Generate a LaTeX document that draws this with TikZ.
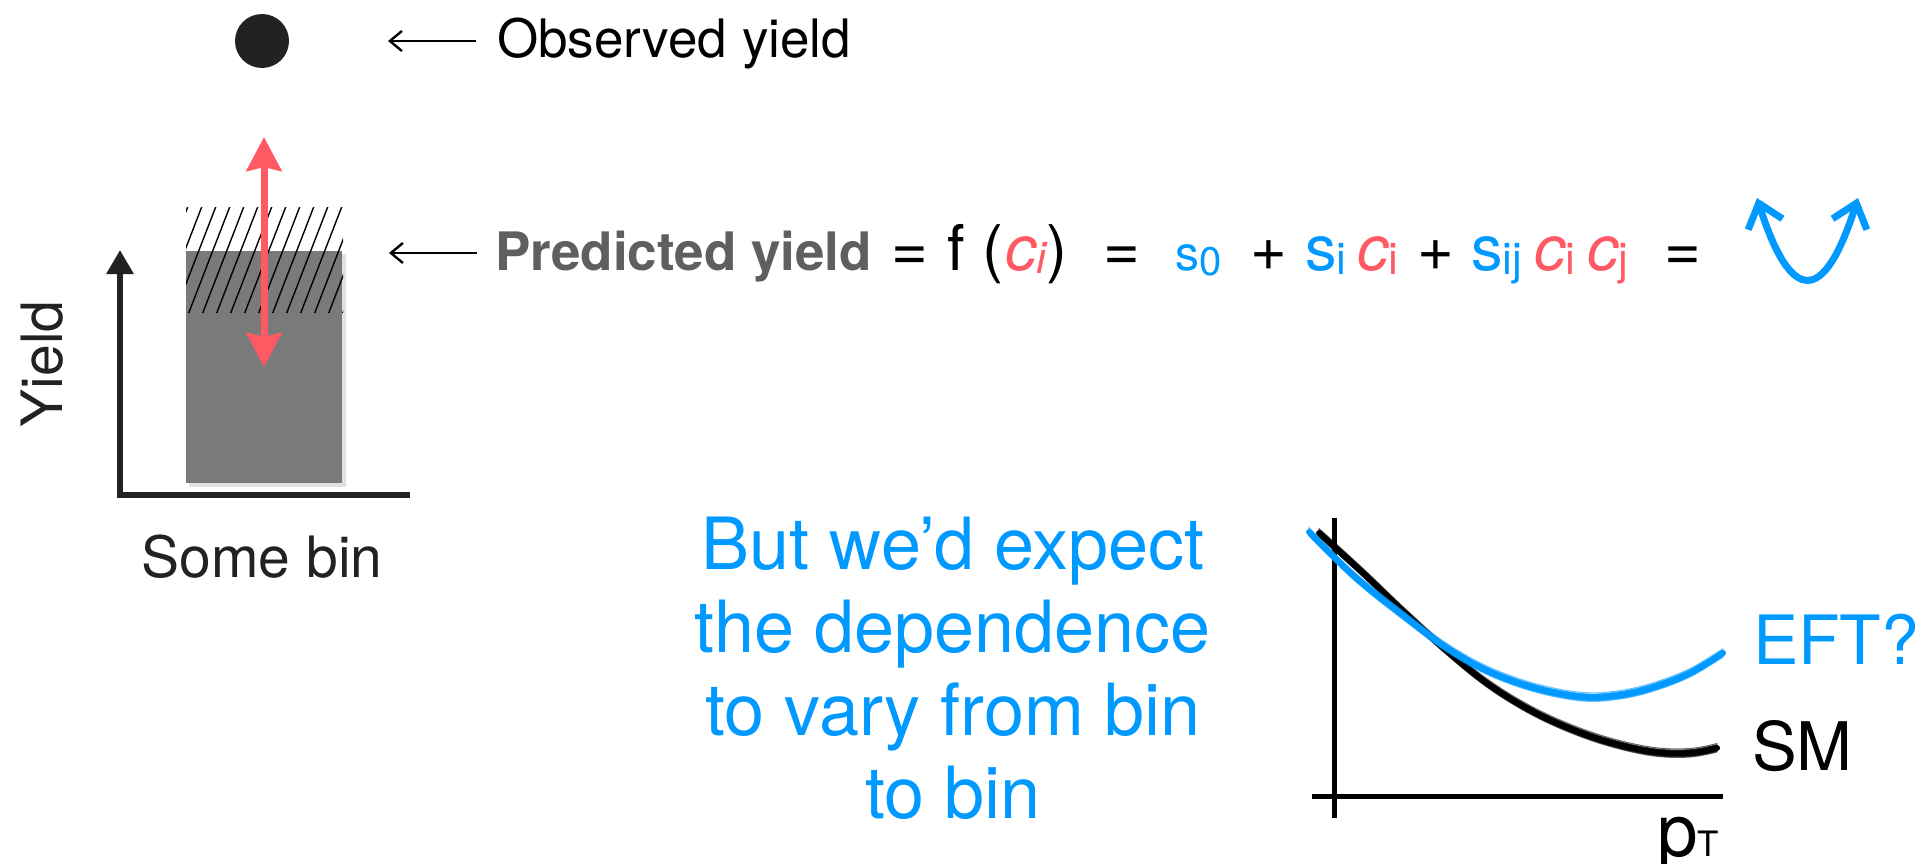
\documentclass[tikz,border=0pt]{standalone}
\usepackage{fontspec}
\setmainfont{TeX Gyre Heros}
\usetikzlibrary{arrows.meta}
\definecolor{myred}{HTML}{FF5A64}
\definecolor{myblue}{HTML}{0099FF}
\definecolor{bargray}{HTML}{7A7A7A}
\definecolor{txtgray}{HTML}{5F5F5F}
\definecolor{ink}{HTML}{222222}
\newcommand{\fs}[1]{\fontsize{#1}{#1}\selectfont}
\newcommand{\lowsub}[1]{\raisebox{-4pt}{\fs{44}#1}}
\begin{document}
\begin{tikzpicture}[x=1pt,y=-1pt,
  lbl/.style={inner sep=0pt, outer sep=0pt, anchor=base west},
  eqtxt/.style={lbl, font=\fs{63}},
  pointer/.style={line width=2.4pt, -{Straight Barb[length=12pt,width=20pt]}},
  axisL/.style={ink, line width=6pt, line join=miter},
  axisR/.style={black, line width=5pt},
  cvar/.style={lbl, text=myred, font=\fs{63}\itshape},
  svar/.style={lbl, text=myblue, font=\fs{63}}]
\useasboundingbox (0,0) rectangle (1932,864);

% ---------- left: observed / predicted ----------
\node[circle, fill=ink, minimum size=54pt, inner sep=0pt] (dot) at (262,41) {};
\node[lbl, font=\fs{53}] (obs) at (497,58) {Observed yield};
\coordinate (obsTail) at (476,41);
\coordinate (obsTip) at (388,41);
\draw[pointer] (obsTail) -- (obsTip);

\fill[black, opacity=0.12] (189,254) rectangle (346,487);
\node[fill=bargray, inner sep=0pt, minimum width=156pt, minimum height=232pt] (bar) at (264,367) {};
\begin{scope}
  \clip (186,207) rectangle (343,313);
  \foreach \x in {146.7,160.7,...,350} \draw[line width=1.4pt] (\x,313) -- (\x+41,207);
\end{scope}

\coordinate (redTop) at (264,137);
\coordinate (redBot) at (264,367);
\draw[myred, line width=7pt, {Stealth[length=34pt,width=35pt,inset=4pt]}-{Stealth[length=34pt,width=35pt,inset=4pt]}] (redBot) -- (redTop);

\coordinate (yTop) at (120,250);
\coordinate (orig) at (120,495);
\coordinate (xEnd) at (410,495);
\draw[axisL, {Triangle[length=24pt,width=26pt]}-] (yTop) -- (orig) -- (xEnd);
\node[lbl, anchor=base, rotate=90, text=ink, font=\fs{57}] (ylab) at (62,364) {Yield};
\node[lbl, anchor=base, text=ink, font=\fs{57}] (xlab) at (262,577) {Some bin};

\coordinate (predTail) at (477,253);
\coordinate (predTip) at (389,253);
\draw[pointer] (predTail) -- (predTip);

% ---------- equation ----------
\node[lbl, text=txtgray, font=\bfseries\fs{53}] (pred) at (495,270) {Predicted yield};
\node[eqtxt] (eq1) at (891,270) {=};
\node[eqtxt] (f) at (947,270) {f};
\node[eqtxt] (lp) at (982.5,270) {(};
\node[cvar] (c0) at (1005,270) {c\raisebox{-3pt}{\fs{44}i}};
\node[eqtxt] (rp) at (1046,270) {)};
\node[eqtxt] (eq2) at (1103,270) {=};
\node[lbl, text=myblue, font=\fs{48}] (s0) at (1175,270) {s\raisebox{-5pt}{\fs{40}0}};
\node[eqtxt] (p1) at (1250,270) {+};
\node[svar] (s1) at (1305,270) {s\lowsub{i}};
\node[cvar] (c1) at (1357,270) {c\lowsub{\upshape i}};
\node[eqtxt] (p2) at (1417,270) {+};
\node[svar] (s2) at (1471,270) {s\lowsub{ij}};
\node[cvar] (c2) at (1534,270) {c\lowsub{\upshape i}};
\node[cvar] (c3) at (1587,270) {c\lowsub{\upshape j}};
\node[eqtxt] (eq3) at (1664,270) {=};

\coordinate (uL) at (1757,198);
\coordinate (uR) at (1858,198);
\draw[myblue, line width=7pt, {Straight Barb[length=22pt,width=36pt]}-{Straight Barb[length=22pt,width=36pt]}] (uL) .. controls (1791,305) and (1824,305) .. (uR);

% ---------- blue text ----------
\node[inner sep=0pt, anchor=north, align=center, text=myblue, font=\fontsize{72}{83}\selectfont] (msg) at (953,516.5)
  {But we’d expect\\the dependence\\to vary from bin\\to bin};

% ---------- right plot ----------
\coordinate (rTop) at (1334,518);
\coordinate (rBot) at (1334,818);
\coordinate (rL) at (1312,796);
\coordinate (rR) at (1723,796);
\draw[axisR] (rTop) -- (rBot);
\draw[axisR] (rL) -- (rR);

\foreach \dy/\w/\op in {0/6/1, 3/1.6/0.8, -3/1.6/0.8, 4.5/1/0.6, -4/1/0.6}{
  \draw[black, line width=\w pt, opacity=\op, yshift=\dy pt, line cap=round]
    plot[smooth, tension=0.6] coordinates {(1319,533) (1362,572) (1405,613) (1447,651) (1488,684) (1530,710) (1571,729) (1612,743) (1654,752) (1690,753) (1717,748)};
}
\foreach \dy/\w/\op in {0/6/1, 3/1.6/0.8, -3/1.6/0.8, 4.5/1/0.6, -4/1/0.6}{
  \draw[myblue, line width=\w pt, opacity=\op, yshift=\dy pt, line cap=round]
    plot[smooth, tension=0.6] coordinates {(1309,532) (1355,577) (1405,617) (1447,648) (1488,671) (1535,688) (1583,697) (1620,695) (1654,687) (1690,673) (1723,653)};
}

\node[lbl, text=myblue, font=\fs{68}] (eft) at (1753,664) {EFT?};
\node[lbl, text=black, font=\fs{67}] (sm) at (1752,770) {SM};
\node[lbl, text=black, font=\fs{73}] (pt) at (1657,856) {p\fs{35}T};
\end{tikzpicture}
\end{document}
